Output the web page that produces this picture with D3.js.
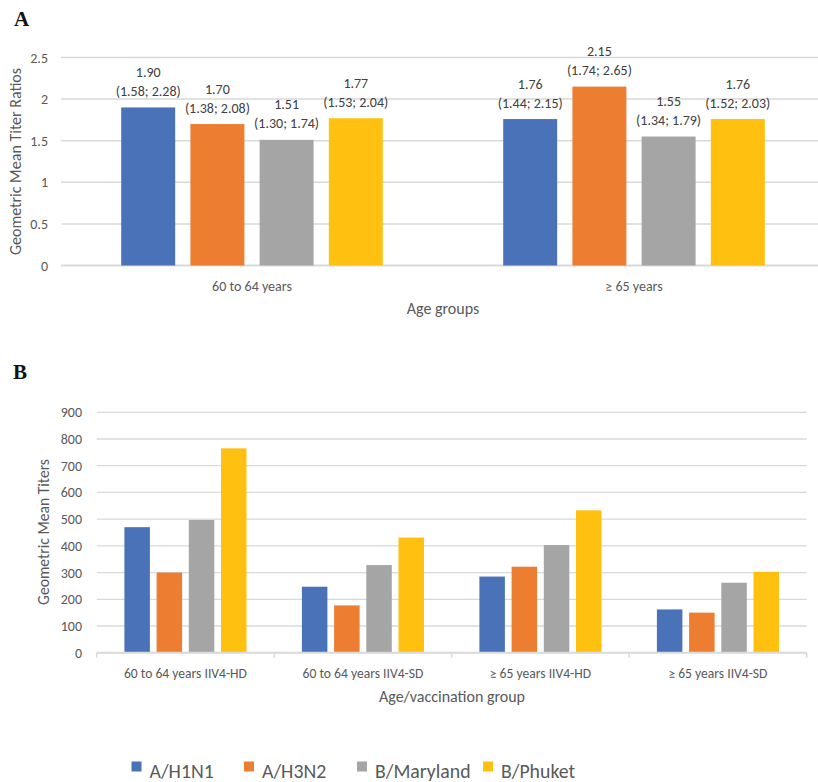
<!DOCTYPE html>
<html><head><meta charset="utf-8">
<script src="https://cdn.jsdelivr.net/npm/d3@7"></script>
<style>body{margin:0;background:#fff}svg{display:block}</style>
</head><body>
<svg id="c" width="818" height="782"></svg>
<script>
const series = ["A/H1N1", "A/H3N2", "B/Maryland", "B/Phuket"];
const colors = ["#4a72b8", "#ed7d31", "#a5a5a5", "#ffc010"];

// Panel A
const groupsA = ["60 to 64 years", "≥ 65 years"];
const gmtrA = [[1.90, 1.70, 1.51, 1.77], [1.76, 2.15, 1.55, 1.76]];
const ciLowA = [[1.58, 1.38, 1.30, 1.53], [1.44, 1.74, 1.34, 1.52]];
const ciHighA = [[2.28, 2.08, 1.74, 2.04], [2.15, 2.65, 1.79, 2.03]];
const ticksA = [0, 0.5, 1, 1.5, 2, 2.5];

// Panel B
const groupsB = ["60 to 64 years IIV4-HD", "60 to 64 years IIV4-SD", "≥ 65 years IIV4-HD", "≥ 65 years IIV4-SD"];
const gmtB = [[470, 300, 497, 765], [247, 177, 328, 431], [285, 322, 403, 533], [162, 150, 262, 303]];
const ticksB = [0, 100, 200, 300, 400, 500, 600, 700, 800, 900];

const font = "Carlito, Lato, 'Open Sans', sans-serif";
const txt = "#595959";
const grid = "#d9d9d9";
const svg = d3.select("#c").style("font-family", font);

// ---------- Panel A ----------
svg.append("text").attr("x", 14).attr("y", 26).text("A")
  .style("font-family", "'Liberation Serif', 'DejaVu Serif', serif").style("font-size", "21px")
  .style("font-weight", "bold").attr("fill", "#111");

const yA = d3.scaleLinear().domain([0, 2.5]).range([265.5, 57.5]);
const x0A = d3.scaleBand().domain(groupsA).range([61, 825]);
const x1A = d3.scaleBand().domain(series).range([0, x0A.bandwidth()]).paddingInner(0.22).paddingOuter(0.87);

const gA = svg.append("g");
gA.selectAll("line.grid").data(ticksA).join("line")
  .attr("x1", 61).attr("x2", 818).attr("y1", d => yA(d)).attr("y2", d => yA(d))
  .attr("stroke", grid).attr("stroke-width", d => d === 0 ? 2 : 1.5);
gA.selectAll("text.tick").data(ticksA).join("text")
  .attr("x", 48).attr("y", d => yA(d) + 5).attr("text-anchor", "end")
  .attr("fill", txt).style("font-size", "14px").text(d => d);

groupsA.forEach((g, gi) => {
  const gg = gA.append("g").attr("transform", `translate(${x0A(g)},0)`);
  series.forEach((s, si) => {
    const v = gmtrA[gi][si];
    const bx = x1A(s), bw = x1A.bandwidth();
    gg.append("rect").attr("x", bx).attr("y", yA(v)).attr("width", bw).attr("height", yA(0) - yA(v))
      .attr("fill", colors[si]);
    gg.append("text").attr("x", bx + bw / 2).attr("y", yA(v) - 30.5).attr("text-anchor", "middle")
      .attr("fill", "#404040").style("font-size", "14px").text(v.toFixed(2));
    gg.append("text").attr("x", bx + bw / 2).attr("y", yA(v) - 11.5).attr("text-anchor", "middle")
      .attr("fill", "#404040").style("font-size", "14px")
      .text(`(${ciLowA[gi][si].toFixed(2)}; ${ciHighA[gi][si].toFixed(2)})`);
  });
  gA.append("text").attr("x", x0A(g) + x0A.bandwidth() / 2).attr("y", 290.5).attr("text-anchor", "middle")
    .attr("fill", txt).style("font-size", "14px").text(g);
});
gA.append("text").attr("x", 443).attr("y", 313.5).attr("text-anchor", "middle")
  .attr("fill", txt).style("font-size", "16px").text("Age groups");
gA.append("text").attr("transform", "translate(21,161.5) rotate(-90)").attr("text-anchor", "middle")
  .attr("fill", txt).style("font-size", "16px").text("Geometric Mean Titer Ratios");

// ---------- Panel B ----------
svg.append("text").attr("x", 13).attr("y", 379).text("B")
  .style("font-family", "'Liberation Serif', 'DejaVu Serif', serif").style("font-size", "21px")
  .style("font-weight", "bold").attr("fill", "#111");

const yB = d3.scaleLinear().domain([0, 900]).range([652.7, 412.3]);
const x0B = d3.scaleBand().domain(groupsB).range([96.7, 806.7]);
const x1B = d3.scaleBand().domain(series).range([0, x0B.bandwidth()]).paddingInner(0.208).paddingOuter(0.86);

const gB = svg.append("g");
gB.selectAll("line.grid").data(ticksB.filter(d => d > 0)).join("line")
  .attr("x1", 96.7).attr("x2", 806.7).attr("y1", d => yB(d)).attr("y2", d => yB(d))
  .attr("stroke", grid).attr("stroke-width", 1.3);
gB.selectAll("text.tick").data(ticksB).join("text")
  .attr("x", 82).attr("y", d => yB(d) + 5).attr("text-anchor", "end")
  .attr("fill", txt).style("font-size", "14px").text(d => d);

groupsB.forEach((g, gi) => {
  const gg = gB.append("g").attr("transform", `translate(${x0B(g)},0)`);
  series.forEach((s, si) => {
    const v = gmtB[gi][si];
    gg.append("rect").attr("x", x1B(s)).attr("y", yB(v)).attr("width", x1B.bandwidth()).attr("height", yB(0) - yB(v))
      .attr("fill", colors[si]);
  });
  gB.append("text").attr("x", x0B(g) + x0B.bandwidth() / 2).attr("y", 677.5).attr("text-anchor", "middle")
    .attr("fill", txt).style("font-size", "13.6px").text(g);
});
gB.append("line").attr("x1", 96.7).attr("x2", 806.7).attr("y1", yB(0)).attr("y2", yB(0))
  .attr("stroke", grid).attr("stroke-width", 2);
const bounds = groupsB.map(g => x0B(g)).concat([x0B.range()[1]]);
gB.selectAll("line.ct").data(bounds).join("line")
  .attr("x1", d => d).attr("x2", d => d).attr("y1", yB(0)).attr("y2", yB(0) + 5)
  .attr("stroke", grid).attr("stroke-width", 1.5);
gB.append("text").attr("x", 452).attr("y", 701.5).attr("text-anchor", "middle")
  .attr("fill", txt).style("font-size", "16px").text("Age/vaccination group");
gB.append("text").attr("transform", "translate(49,532) rotate(-90)").attr("text-anchor", "middle")
  .attr("fill", txt).style("font-size", "15.6px").text("Geometric Mean Titers");

// ---------- Legend ----------
const legX = [131.5, 244, 357, 483];
const leg = svg.append("g");
series.forEach((s, i) => {
  leg.append("rect").attr("x", legX[i]).attr("y", 761.5).attr("width", 10).attr("height", 10).attr("fill", colors[i]);
  leg.append("text").attr("x", legX[i] + 18).attr("y", 778).attr("fill", txt)
    .style("font-size", "19.8px").text(s);
});
</script>
</body></html>
